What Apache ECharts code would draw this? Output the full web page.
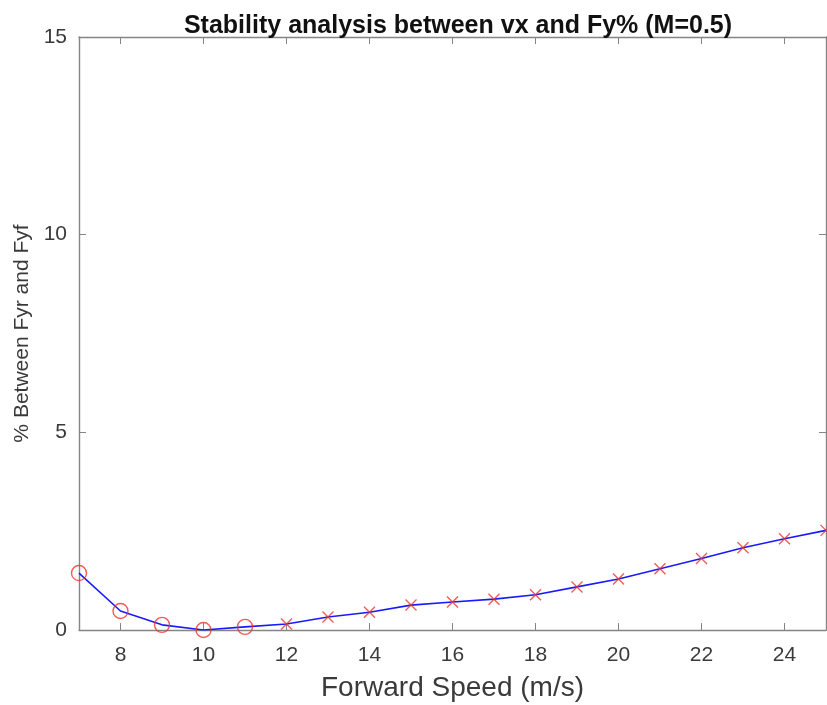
<!DOCTYPE html>
<html>
<head>
<meta charset="utf-8">
<script src="https://cdn.jsdelivr.net/npm/echarts@6/dist/echarts.min.js"></script>
<style>html,body{margin:0;padding:0;background:#fff;}#chart{width:827px;height:705px;}</style>
</head>
<body>
<div id="chart"></div>
<script>
// Data
var speeds = [7, 8, 9, 10, 11, 12, 13, 14, 15, 16, 17, 18, 19, 20, 21, 22, 23, 24, 25];
var pctDiff = [1.44, 0.48, 0.13, 0.0, 0.08, 0.15, 0.33, 0.45, 0.63, 0.71, 0.78, 0.89, 1.09, 1.29, 1.55, 1.81, 2.08, 2.31, 2.52];
var circleSpeeds = [7, 8, 9, 10, 11];
var xTicks = [8, 10, 12, 14, 16, 18, 20, 22, 24];
var yTicks = [0, 5, 10, 15];
var titleText = 'Stability analysis between vx and Fy% (M=0.5)';
var xName = 'Forward Speed (m/s)';
var yName = '% Between Fyr and Fyf';

var lineData = speeds.map(function (s, i) { return [s, pctDiff[i]]; });
var circleData = lineData.filter(function (d) { return circleSpeeds.indexOf(d[0]) >= 0; });
var crossData = lineData.filter(function (d) { return circleSpeeds.indexOf(d[0]) < 0; });

var axisCol = '#858585';
var textCol = '#3a3a3a';
var font = 'Liberation Sans, Arial, Helvetica, sans-serif';

var chart = echarts.init(document.getElementById('chart'), null, {renderer: 'canvas'});
chart.setOption({
  animation: false,
  backgroundColor: '#ffffff',
  title: {
    text: titleText, left: 453, top: 9, textAlign: 'center',
    textStyle: {fontFamily: font, fontWeight: 'bold', fontSize: 25, color: '#111'}
  },
  grid: {left: 79, right: 1, top: 37, bottom: 75, containLabel: false, outerBoundsMode: 'none'},
  xAxis: [{
    type: 'value', min: 7, max: 25, position: 'bottom',
    name: xName, nameLocation: 'middle', nameGap: 44,
    nameTextStyle: {fontFamily: font, fontSize: 28, color: textCol},
    axisLine: {show: true, onZero: false, lineStyle: {color: axisCol, width: 1.4}},
    axisTick: {show: true, inside: true, length: 7, customValues: xTicks, lineStyle: {color: axisCol}},
    axisLabel: {customValues: xTicks, fontFamily: font, fontSize: 21, color: textCol, margin: 15},
    splitLine: {show: false}
  }, {
    type: 'value', min: 7, max: 25, position: 'top',
    axisLine: {show: true, onZero: false, lineStyle: {color: axisCol, width: 1.4}},
    axisTick: {show: true, inside: true, length: 7, customValues: xTicks, lineStyle: {color: axisCol}},
    axisLabel: {show: false}, splitLine: {show: false}
  }],
  yAxis: [{
    type: 'value', min: 0, max: 15, interval: 5, position: 'left',
    name: yName, nameLocation: 'middle', nameGap: 46,
    nameTextStyle: {fontFamily: font, fontSize: 21, color: textCol},
    axisLine: {show: true, onZero: false, lineStyle: {color: axisCol, width: 1.4}},
    axisTick: {show: true, inside: true, length: 7, lineStyle: {color: axisCol}},
    axisLabel: {fontFamily: font, fontSize: 21, color: textCol, margin: 12},
    splitLine: {show: false}
  }, {
    type: 'value', min: 0, max: 15, interval: 5, position: 'right',
    axisLine: {show: true, onZero: false, lineStyle: {color: axisCol, width: 1.4}},
    axisTick: {show: true, inside: true, length: 7, lineStyle: {color: axisCol}},
    axisLabel: {show: false}, splitLine: {show: false}
  }],
  series: [{
    type: 'line', data: lineData, showSymbol: false, symbol: 'none',
    lineStyle: {color: '#1a1aff', width: 1.6}, z: 3
  }, {
    type: 'scatter', data: circleData, symbol: 'circle', symbolSize: 15,
    itemStyle: {color: 'rgba(0,0,0,0)', borderColor: '#e8342a', borderWidth: 1.4}, z: 4
  }, {
    type: 'scatter', data: crossData, symbol: 'path://M0,0L10,10M10,0L0,10', symbolSize: 11,
    itemStyle: {color: 'rgba(0,0,0,0)', borderColor: '#e8342a', borderWidth: 1.4}, z: 4
  }]
});
</script>
</body>
</html>
